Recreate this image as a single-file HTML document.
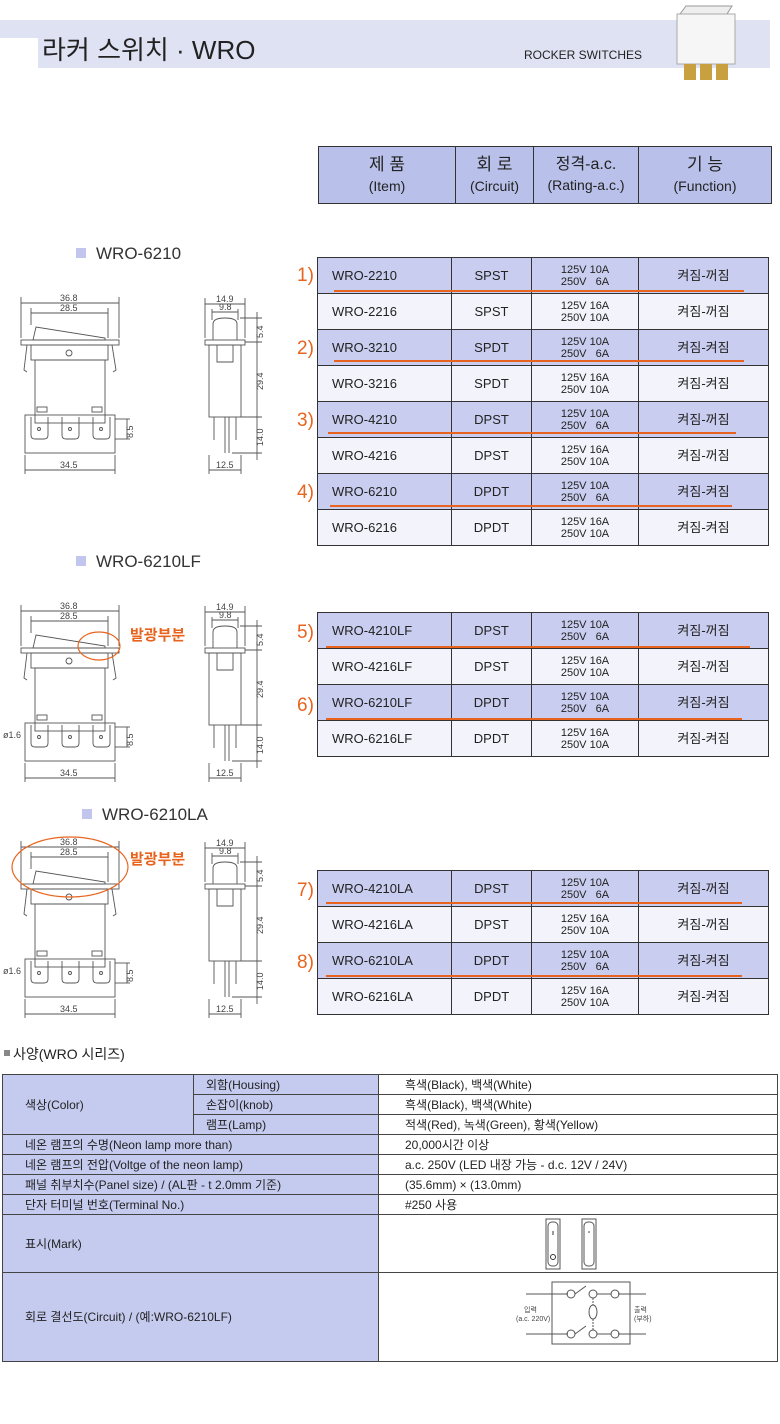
<!DOCTYPE html>
<html><head><meta charset="utf-8">
<style>
*{margin:0;padding:0;box-sizing:border-box}
body{width:780px;height:1424px;background:#fff;position:relative;overflow:hidden;font-family:"Liberation Sans","Noto Sans CJK KR",sans-serif;color:#222}
.abs{position:absolute}
table{border-collapse:collapse;position:absolute;table-layout:fixed}
td{border:1.5px solid #333;text-align:center;font-size:13px;color:#222;padding:0;line-height:1}
.t td{height:36px}
.hl td{background:#c9cdef}
.wt td{background:#f3f4fb}
.r{font-size:11px;line-height:12px}
.num{position:absolute;color:#e8641e;font-size:19px;left:297px}
.ul{position:absolute;height:2px;background:#e8641e}
.sec{position:absolute;font-size:17px;color:#333}
.sec:before{content:"";display:inline-block;width:10px;height:10px;background:#c2c6ee;margin-right:10px;vertical-align:1px}
.spec td{border:1.3px solid #444;font-size:12px;text-align:left;padding-left:22px;height:20px}
.spec .b{background:#c5cbef}
.spec .w{background:#fff;padding-left:26px}
</style></head><body>

<!-- header band -->
<div class="abs" style="left:0;top:20px;width:770px;height:18px;background:#dfe2f2"></div>
<div class="abs" style="left:38px;top:20px;width:732px;height:48px;background:#dfe2f2"></div>
<div class="abs" style="left:42px;top:30px;font-size:26px;color:#222">라커 스위치 · WRO</div>
<div class="abs" style="left:524px;top:48px;font-size:12px;color:#222">ROCKER SWITCHES</div>
<svg class="abs" style="left:672px;top:4px" width="70" height="80">
<polygon points="8,10 55,10 60,2 14,2" fill="#eee" stroke="#999"/>
<rect x="5" y="10" width="58" height="50" fill="#f6f6f6" stroke="#aaa"/>
<rect x="12" y="60" width="12" height="16" fill="#c9a040"/><rect x="28" y="60" width="12" height="16" fill="#c9a040"/><rect x="44" y="60" width="12" height="16" fill="#c9a040"/>
</svg>

<!-- header table -->
<table style="left:318px;top:146px;width:454px">
<colgroup><col style="width:137px"><col style="width:78px"><col style="width:105px"><col></colgroup>
<tr style="background:#b9c1ea"><td style="height:57px;font-size:17px;line-height:21px">제 품<br><span style="font-size:14px">(Item)</span></td><td style="font-size:17px;line-height:21px">회 로<br><span style="font-size:14px">(Circuit)</span></td><td style="font-size:16px;line-height:21px">정격-a.c.<br><span style="font-size:14px">(Rating-a.c.)</span></td><td style="font-size:17px;line-height:21px">기 능<br><span style="font-size:14px">(Function)</span></td></tr>
</table>

<!-- table 1 -->
<table class="t" style="left:317px;top:257px;width:452px">
<colgroup><col style="width:134px"><col style="width:80px"><col style="width:107px"><col></colgroup>
<tr class="hl"><td style="text-align:left;padding-left:14px">WRO-2210</td><td>SPST</td><td class="r">125V  10A<br>250V  &nbsp; 6A</td><td>켜짐-꺼짐</td></tr>
<tr class="wt"><td style="text-align:left;padding-left:14px">WRO-2216</td><td>SPST</td><td class="r">125V  16A<br>250V  10A</td><td>켜짐-꺼짐</td></tr>
<tr class="hl"><td style="text-align:left;padding-left:14px">WRO-3210</td><td>SPDT</td><td class="r">125V  10A<br>250V  &nbsp; 6A</td><td>켜짐-켜짐</td></tr>
<tr class="wt"><td style="text-align:left;padding-left:14px">WRO-3216</td><td>SPDT</td><td class="r">125V  16A<br>250V  10A</td><td>켜짐-켜짐</td></tr>
<tr class="hl"><td style="text-align:left;padding-left:14px">WRO-4210</td><td>DPST</td><td class="r">125V  10A<br>250V  &nbsp; 6A</td><td>켜짐-꺼짐</td></tr>
<tr class="wt"><td style="text-align:left;padding-left:14px">WRO-4216</td><td>DPST</td><td class="r">125V  16A<br>250V  10A</td><td>켜짐-꺼짐</td></tr>
<tr class="hl"><td style="text-align:left;padding-left:14px">WRO-6210</td><td>DPDT</td><td class="r">125V  10A<br>250V  &nbsp; 6A</td><td>켜짐-켜짐</td></tr>
<tr class="wt"><td style="text-align:left;padding-left:14px">WRO-6216</td><td>DPDT</td><td class="r">125V  16A<br>250V  10A</td><td>켜짐-켜짐</td></tr>
</table>

<!-- table 2 -->
<table class="t" style="left:317px;top:612px;width:452px">
<colgroup><col style="width:134px"><col style="width:80px"><col style="width:107px"><col></colgroup>
<tr class="hl"><td style="text-align:left;padding-left:14px">WRO-4210LF</td><td>DPST</td><td class="r">125V  10A<br>250V  &nbsp; 6A</td><td>켜짐-꺼짐</td></tr>
<tr class="wt"><td style="text-align:left;padding-left:14px">WRO-4216LF</td><td>DPST</td><td class="r">125V  16A<br>250V  10A</td><td>켜짐-꺼짐</td></tr>
<tr class="hl"><td style="text-align:left;padding-left:14px">WRO-6210LF</td><td>DPDT</td><td class="r">125V  10A<br>250V  &nbsp; 6A</td><td>켜짐-켜짐</td></tr>
<tr class="wt"><td style="text-align:left;padding-left:14px">WRO-6216LF</td><td>DPDT</td><td class="r">125V  16A<br>250V  10A</td><td>켜짐-켜짐</td></tr>
</table>

<!-- table 3 -->
<table class="t" style="left:317px;top:870px;width:452px">
<colgroup><col style="width:134px"><col style="width:80px"><col style="width:107px"><col></colgroup>
<tr class="hl"><td style="text-align:left;padding-left:14px">WRO-4210LA</td><td>DPST</td><td class="r">125V  10A<br>250V  &nbsp; 6A</td><td>켜짐-꺼짐</td></tr>
<tr class="wt"><td style="text-align:left;padding-left:14px">WRO-4216LA</td><td>DPST</td><td class="r">125V  16A<br>250V  10A</td><td>켜짐-꺼짐</td></tr>
<tr class="hl"><td style="text-align:left;padding-left:14px">WRO-6210LA</td><td>DPDT</td><td class="r">125V  10A<br>250V  &nbsp; 6A</td><td>켜짐-켜짐</td></tr>
<tr class="wt"><td style="text-align:left;padding-left:14px">WRO-6216LA</td><td>DPDT</td><td class="r">125V  16A<br>250V  10A</td><td>켜짐-켜짐</td></tr>
</table>

<!-- numbers & underlines -->
<div class="num" style="top:265px">1)</div><div class="ul" style="left:334px;top:290px;width:410px"></div>
<div class="num" style="top:338px">2)</div><div class="ul" style="left:334px;top:360px;width:410px"></div>
<div class="num" style="top:410px">3)</div><div class="ul" style="left:328px;top:432px;width:408px"></div>
<div class="num" style="top:482px">4)</div><div class="ul" style="left:330px;top:505px;width:402px"></div>
<div class="num" style="top:622px">5)</div><div class="ul" style="left:326px;top:646px;width:424px"></div>
<div class="num" style="top:695px">6)</div><div class="ul" style="left:326px;top:718px;width:416px"></div>
<div class="num" style="top:880px">7)</div><div class="ul" style="left:326px;top:902px;width:416px"></div>
<div class="num" style="top:952px">8)</div><div class="ul" style="left:326px;top:975px;width:416px"></div>

<!-- section labels -->
<div class="sec" style="left:76px;top:244px">WRO-6210</div>
<div class="sec" style="left:76px;top:552px">WRO-6210LF</div>
<div class="sec" style="left:82px;top:805px">WRO-6210LA</div>

<!-- drawings -->
<svg class="abs" style="left:0;top:0" width="300" height="1030" font-family="Liberation Sans, sans-serif" font-size="9" fill="#444">
<defs>
<g id="sw" fill="none" stroke="#555" stroke-width="0.9">
 <line x1="21" y1="297" x2="21" y2="338"/><line x1="119" y1="297" x2="119" y2="338"/>
 <line x1="21" y1="303" x2="119" y2="303"/>
 <line x1="31" y1="308" x2="31" y2="325"/><line x1="108" y1="308" x2="108" y2="338"/>
 <line x1="31" y1="313" x2="108" y2="313"/>
 <polygon points="33,340 36,327 105,338 105,340"/>
 <rect x="21" y="340" width="98" height="5"/>
 <rect x="31" y="345" width="77" height="15"/>
 <circle cx="69" cy="353" r="3"/>
 <path d="M27 345 L24 370 L27 372 M112 345 L116 370 L113 372"/>
 <rect x="35" y="360" width="70" height="63"/>
 <rect x="25" y="415" width="90" height="38"/>
 <rect x="37" y="407" width="10" height="5"/><rect x="92" y="407" width="10" height="5"/>
 <path d="M31 417 v18 q0 4 4 4 h9 q4 0 4 -4 v-18 M62 417 v18 q0 4 4 4 h9 q4 0 4 -4 v-18 M93 417 v18 q0 4 4 4 h9 q4 0 4 -4 v-18"/>
 <circle cx="39" cy="429" r="1.5"/><circle cx="70" cy="429" r="1.5"/><circle cx="101" cy="429" r="1.5"/>
 <line x1="115" y1="419" x2="130" y2="419"/><line x1="115" y1="439" x2="130" y2="439"/><line x1="127" y1="419" x2="127" y2="439"/>
 <line x1="25" y1="455" x2="25" y2="474"/><line x1="115" y1="455" x2="115" y2="474"/><line x1="25" y1="470" x2="115" y2="470"/>
 <!-- side -->
 <line x1="205" y1="298" x2="205" y2="338"/><line x1="245" y1="298" x2="245" y2="338"/><line x1="205" y1="304" x2="245" y2="304"/>
 <line x1="212" y1="309" x2="212" y2="320"/><line x1="238" y1="309" x2="238" y2="320"/><line x1="212" y1="312" x2="238" y2="312"/>
 <path d="M213 340 V324 Q213 318 225 318 Q237 318 237 324 V340"/>
 <rect x="205" y="340" width="40" height="5"/>
 <rect x="209" y="345" width="32" height="72"/>
 <path d="M217 345 V362 H233 V345"/>
 <line x1="214" y1="417" x2="214" y2="440"/><line x1="225" y1="417" x2="225" y2="453"/><line x1="229" y1="417" x2="229" y2="453"/><line x1="236" y1="417" x2="236" y2="440"/>
 <line x1="240" y1="318" x2="262" y2="318"/><line x1="245" y1="342" x2="262" y2="342"/><line x1="241" y1="417" x2="262" y2="417"/><line x1="232" y1="453" x2="262" y2="453"/>
 <line x1="257" y1="312" x2="257" y2="460"/>
 <line x1="209" y1="455" x2="209" y2="474"/><line x1="241" y1="455" x2="241" y2="474"/><line x1="209" y1="470" x2="241" y2="470"/>
</g>
<g id="lab" font-size="9" fill="#444" stroke="none">
 <text x="60" y="301">36.8</text><text x="60" y="311">28.5</text><text x="60" y="468">34.5</text>
 <text x="217" y="302">14.9</text><text x="219" y="310">9.8</text><text x="216" y="468">12.5</text>
</g>
</defs>
<use href="#sw"/>
<use href="#sw" transform="translate(0,308)"/>
<use href="#sw" transform="translate(0,544)"/>
<text x="60" y="301">36.8</text><text x="60" y="311">28.5</text><text x="60" y="468">34.5</text>
<text x="216" y="302">14.9</text><text x="219" y="310">9.8</text><text x="216" y="468">12.5</text>
<g transform="translate(0,308)"><text x="60" y="301">36.8</text><text x="60" y="311">28.5</text><text x="60" y="468">34.5</text><text x="216" y="302">14.9</text><text x="219" y="310">9.8</text><text x="216" y="468">12.5</text><text x="3" y="430">ø1.6</text></g>
<g transform="translate(0,544)"><text x="60" y="301">36.8</text><text x="60" y="311">28.5</text><text x="60" y="468">34.5</text><text x="216" y="302">14.9</text><text x="219" y="310">9.8</text><text x="216" y="468">12.5</text><text x="3" y="430">ø1.6</text></g>
<g font-size="9"><text transform="translate(263,338) rotate(-90)">5.4</text><text transform="translate(263,390) rotate(-90)">29.4</text><text transform="translate(263,446) rotate(-90)">14.0</text><text transform="translate(133,438) rotate(-90)">8.5</text></g>
<g font-size="9" transform="translate(0,308)"><text transform="translate(263,338) rotate(-90)">5.4</text><text transform="translate(263,390) rotate(-90)">29.4</text><text transform="translate(263,446) rotate(-90)">14.0</text><text transform="translate(133,438) rotate(-90)">8.5</text></g>
<g font-size="9" transform="translate(0,544)"><text transform="translate(263,338) rotate(-90)">5.4</text><text transform="translate(263,390) rotate(-90)">29.4</text><text transform="translate(263,446) rotate(-90)">14.0</text><text transform="translate(133,438) rotate(-90)">8.5</text></g>
<ellipse cx="99" cy="646" rx="21" ry="14" fill="none" stroke="#e8641e" stroke-width="1.2"/>
<ellipse cx="70" cy="867" rx="58" ry="30" fill="none" stroke="#e8641e" stroke-width="1.2"/>
<text x="130" y="640" font-size="15" font-weight="bold" fill="#e8641e" font-family="Liberation Sans, Noto Sans CJK KR, sans-serif">발광부분</text>
<text x="130" y="864" font-size="15" font-weight="bold" fill="#e8641e" font-family="Liberation Sans, Noto Sans CJK KR, sans-serif">발광부분</text>
</svg>

<div class="abs" style="left:4px;top:1044px;font-size:14px;color:#222"><span style="display:inline-block;width:6px;height:6px;background:#888;vertical-align:3px;margin-right:3px"></span>사양(WRO 시리즈)</div>

<table class="spec" style="left:2px;top:1074px;width:776px">
<colgroup><col style="width:191px"><col style="width:185px"><col></colgroup>
<tr><td class="b" rowspan="3">색상(Color)</td><td class="b" style="padding-left:12px">외함(Housing)</td><td class="w">흑색(Black), 백색(White)</td></tr>
<tr><td class="b" style="padding-left:12px">손잡이(knob)</td><td class="w">흑색(Black), 백색(White)</td></tr>
<tr><td class="b" style="padding-left:12px">램프(Lamp)</td><td class="w">적색(Red), 녹색(Green), 황색(Yellow)</td></tr>
<tr><td class="b" colspan="2">네온 램프의 수명(Neon lamp more than)</td><td class="w">20,000시간 이상</td></tr>
<tr><td class="b" colspan="2">네온 램프의 전압(Voltge of the neon lamp)</td><td class="w">a.c. 250V (LED 내장 가능 - d.c. 12V / 24V)</td></tr>
<tr><td class="b" colspan="2">패널 취부치수(Panel size) / (AL판 - t 2.0mm 기준)</td><td class="w">(35.6mm) × (13.0mm)</td></tr>
<tr><td class="b" colspan="2">단자 터미널 번호(Terminal No.)</td><td class="w">#250 사용</td></tr>
<tr><td class="b" colspan="2" style="height:58px">표시(Mark)</td><td class="w" style="padding:0;text-align:center">
<svg width="80" height="54" viewBox="0 0 80 54"><rect x="8" y="3" width="14" height="50" fill="none" stroke="#555"/><rect x="10" y="6" width="10" height="44" rx="4" fill="none" stroke="#555"/><line x1="15" y1="15" x2="15" y2="19" stroke="#333"/><circle cx="15" cy="41" r="2.5" fill="none" stroke="#333"/><rect x="44" y="3" width="14" height="50" fill="none" stroke="#555"/><rect x="46" y="6" width="10" height="44" rx="4" fill="none" stroke="#555"/><circle cx="51" cy="16" r="0.8" fill="#333"/></svg></td></tr>
<tr><td class="b" colspan="2" style="height:89px">회로 결선도(Circuit) / (예:WRO-6210LF)</td><td class="w" style="padding:0;text-align:center">
<svg width="160" height="80" viewBox="0 0 160 80" font-family="Liberation Sans, Noto Sans CJK KR, sans-serif" font-size="7" fill="#444">
<rect x="54" y="6" width="78" height="62" fill="none" stroke="#555"/>
<g fill="none" stroke="#555"><line x1="28" y1="18" x2="70" y2="18"/><line x1="28" y1="58" x2="70" y2="58"/><line x1="120" y1="18" x2="148" y2="18"/><line x1="120" y1="58" x2="148" y2="58"/>
<circle cx="73" cy="18" r="4"/><circle cx="95" cy="18" r="4"/><circle cx="117" cy="18" r="4"/><circle cx="73" cy="58" r="4"/><circle cx="95" cy="58" r="4"/><circle cx="117" cy="58" r="4"/>
<line x1="77" y1="18" x2="88" y2="10"/><line x1="77" y1="58" x2="88" y2="50"/><line x1="99" y1="18" x2="113" y2="18"/><line x1="99" y1="58" x2="113" y2="58"/>
<line x1="95" y1="22" x2="95" y2="54" stroke-dasharray="2,1"/><ellipse cx="95" cy="36" rx="4" ry="7" fill="#fff"/></g>
<text x="26" y="36">입력</text><text x="18" y="45">(a.c. 220V)</text><text x="136" y="36">출력</text><text x="136" y="45">(부하)</text>
</svg></td></tr>
</table>
</body></html>
